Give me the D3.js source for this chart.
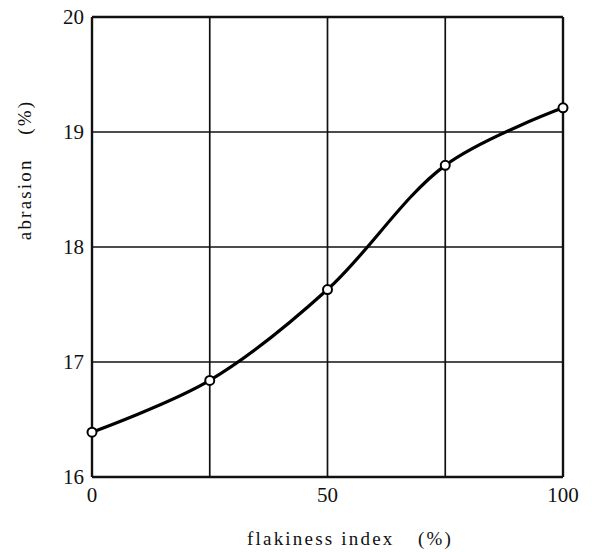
<!DOCTYPE html>
<html lang="en">
  <head>
    <meta charset="UTF-8" />
    <title>Abrasion vs flakiness index</title>
    <style>
      body { margin: 0; background: #fff; }
      text { font-family: "Liberation Serif", "DejaVu Serif", serif; fill: #111; }
    </style>
  </head>
  <body>
    <script src="https://d3js.org/d3.v7.min.js"></script>
    <svg id="chart" width="592" height="552"></svg>
    <script>
      // values
      var flakiness = [0, 25, 50, 75, 100];
      var abrasion = [16.39, 16.84, 17.63, 18.71, 19.21];
      var xTicks = [0, 50, 100];
      var xGrid = [0, 25, 50, 75, 100];
      var yTicks = [16, 17, 18, 19, 20];

      var svg = d3.select("#chart");
      // plot box (note: "top" is taken by window.top)
      var plotL = 92, plotR = 563, plotT = 17, plotB = 477;

      var x = d3.scaleLinear().domain([0, 100]).range([plotL, plotR]);
      var y = d3.scaleLinear().domain([16, 20]).range([plotB, plotT]);

      // grid
      svg.append("g")
        .selectAll("line")
        .data(xGrid)
        .enter()
        .append("line")
        .attr("x1", function (d) { return x(d); })
        .attr("x2", function (d) { return x(d); })
        .attr("y1", plotT)
        .attr("y2", plotB)
        .attr("stroke", "#111")
        .attr("stroke-width", function (d) { return d == 0 || d == 100 ? 2.4 : 1.7; });

      svg.append("g")
        .selectAll("line")
        .data(yTicks)
        .enter()
        .append("line")
        .attr("x1", plotL)
        .attr("x2", plotR)
        .attr("y1", function (d) { return y(d); })
        .attr("y2", function (d) { return y(d); })
        .attr("stroke", "#111")
        .attr("stroke-width", function (d) { return d == 16 || d == 20 ? 2.4 : 1.7; });

      // tick labels
      svg.append("g")
        .selectAll("text")
        .data(yTicks)
        .enter()
        .append("text")
        .attr("x", plotL - 8)
        .attr("y", function (d) { return y(d); })
        .attr("dy", "0.35em")
        .attr("text-anchor", "end")
        .style("font-size", "21px")
        .text(function (d) { return d; });

      svg.append("g")
        .selectAll("text")
        .data(xTicks)
        .enter()
        .append("text")
        .attr("x", function (d) { return x(d); })
        .attr("y", plotB + 25)
        .attr("text-anchor", "middle")
        .style("font-size", "21px")
        .text(function (d) { return d; });

      // axis titles
      svg.append("text")
        .attr("x", 350)
        .attr("y", 545)
        .attr("text-anchor", "middle")
        .style("font-size", "19px")
        .style("letter-spacing", "2.2px")
        .text("flakiness index\u2002\u2002(%)");

      svg.append("text")
        .attr("transform", "translate(31,170) rotate(-90)")
        .attr("text-anchor", "middle")
        .style("font-size", "19px")
        .style("letter-spacing", "2.2px")
        .text("abrasion\u2002\u2002(%)");

      // curve
      var line = d3.line()
        .x(function (d, i) { return x(flakiness[i]); })
        .y(function (d) { return y(d); })
        .curve(d3.curveCatmullRom.alpha(0.5));

      svg.append("path")
        .datum(abrasion)
        .attr("d", line)
        .attr("fill", "none")
        .attr("stroke", "#000")
        .attr("stroke-width", 3.2);

      svg.append("g")
        .selectAll("circle")
        .data(abrasion)
        .enter()
        .append("circle")
        .attr("cx", function (d, i) { return x(flakiness[i]); })
        .attr("cy", function (d) { return y(d); })
        .attr("r", 4.5)
        .attr("fill", "#fff")
        .attr("stroke", "#000")
        .attr("stroke-width", 2);
    </script>
  </body>
</html>
